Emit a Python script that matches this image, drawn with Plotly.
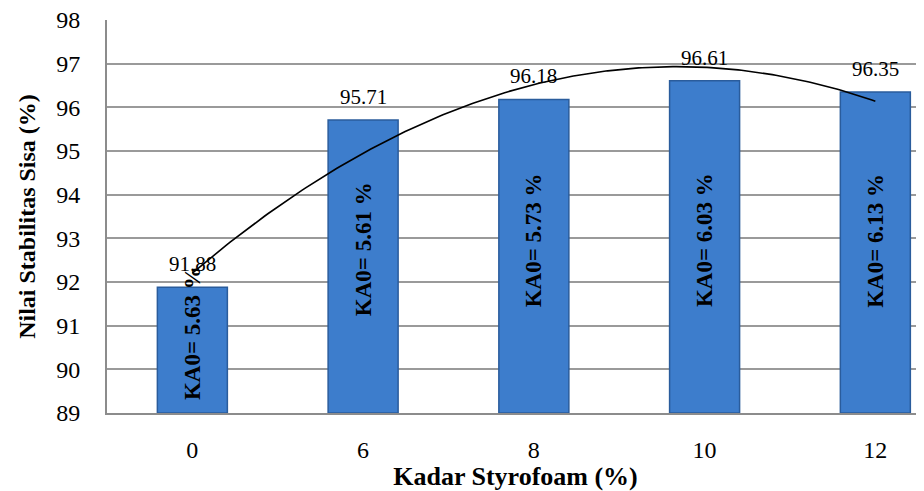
import numpy as np
import plotly.graph_objects as go

categories = ["0", "6", "8", "10", "12"]
values = [91.88, 95.71, 96.18, 96.61, 96.35]
ka0_labels = ["KA0= 5.63 %", "KA0= 5.61 %", "KA0= 5.73 %", "KA0= 6.03 %", "KA0= 6.13 %"]
y_ticks = [89, 90, 91, 92, 93, 94, 95, 96, 97, 98]

xpos = np.arange(len(categories))
serif = "Liberation Serif"
base = 89

fig = go.Figure()
fig.add_trace(go.Bar(
    x=xpos, y=[v - base for v in values], base=base, width=0.41,
    marker=dict(color="#3d7dcc", line=dict(color="#2a5c9c", width=1.5)),
    hoverinfo="skip", showlegend=False,
))

# polynomial (order 2) trendline as in Excel, fitted on x = 1..n
coef = np.polyfit(xpos + 1, values, 2)
xs = np.linspace(0, len(categories) - 1, 200)
fig.add_trace(go.Scatter(
    x=xs, y=np.polyval(coef, xs + 1), mode="lines",
    line=dict(color="black", width=1.6), hoverinfo="skip", showlegend=False,
))

for i, (v, lab) in enumerate(zip(values, ka0_labels)):
    fig.add_annotation(x=i, y=v, text=f"{v:.2f}", showarrow=False,
                       yanchor="bottom", yshift=9,
                       font=dict(family=serif, size=21, color="black"))
    ty = min(92.95, (v + base) / 2 + 0.4)
    fig.add_annotation(x=i, y=ty, text=f"<b>{lab}</b>", showarrow=False,
                       textangle=-90, xanchor="center", yanchor="middle",
                       font=dict(family=serif, size=23, color="black"))

# page body has an 8px margin: size the figure so the plot lands where the reference has it
fig.update_layout(
    width=916, height=483,
    margin=dict(l=99, r=0, t=12, b=78),
    paper_bgcolor="white", plot_bgcolor="white",
    xaxis=dict(
        range=[-0.5, 4.285], tickmode="array", tickvals=list(xpos), ticktext=categories,
        showgrid=False, showline=True, linecolor="#8c8c8c", linewidth=2,
        ticks="outside", ticklen=0, ticklabelstandoff=14, automargin=False,
        ticklabeloverflow="allow",
        tickfont=dict(family=serif, size=24, color="black"),
        title=dict(text="<b>Kadar Styrofoam (%)</b>", font=dict(family=serif, size=26, color="black"), standoff=0),
        zeroline=False,
    ),
    yaxis=dict(
        range=[89, 98], tickmode="array", tickvals=y_ticks,
        showgrid=True, gridcolor="#9a9a9a", gridwidth=1.5,
        showline=True, linecolor="#8c8c8c", linewidth=2,
        ticks="outside", ticklen=0, ticklabelstandoff=20, automargin=False,
        ticklabeloverflow="allow",
        tickfont=dict(family=serif, size=24, color="black"),
        title=dict(text="<b>Nilai Stabilitas Sisa (%)</b>", font=dict(family=serif, size=24, color="black"), standoff=14),
        zeroline=False,
    ),
)

fig.write_html("out.html")
